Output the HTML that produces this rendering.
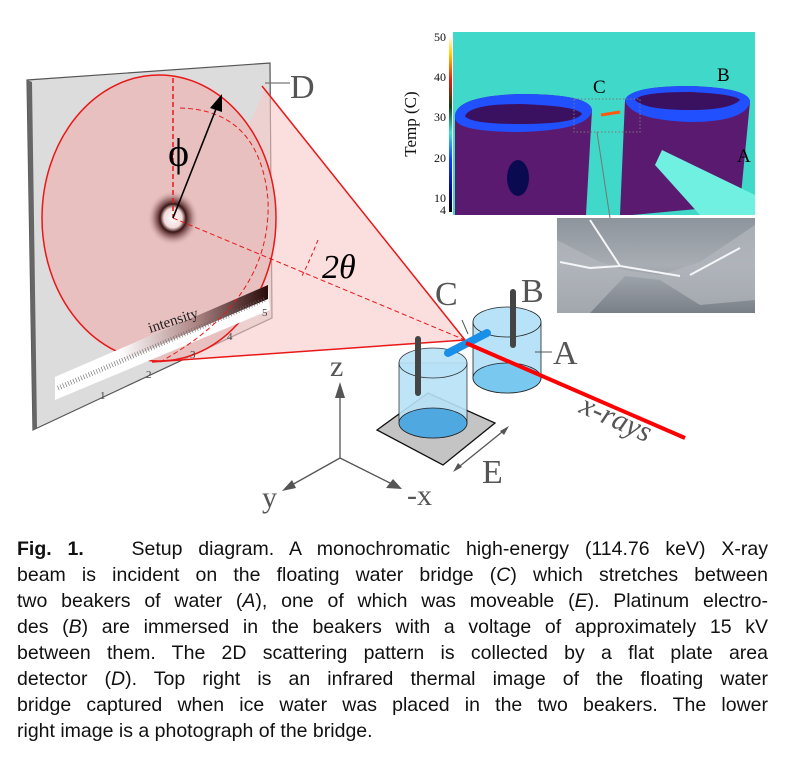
<!DOCTYPE html>
<html><head><meta charset="utf-8"><style>
body{margin:0;background:#fff;width:786px;height:775px;overflow:hidden;position:relative;font-family:"Liberation Sans",sans-serif}
svg{position:absolute;left:0;top:0}
.cap{position:absolute;left:17px;width:751px;top:536px;font-size:19.5px;line-height:26px;color:#111}
.cap div{text-align:justify;text-align-last:justify;white-space:nowrap;overflow:visible}
.cap div.l{text-align-last:left}
</style></head><body>
<svg width="786" height="530" viewBox="0 0 786 530" font-family="Liberation Serif, serif">
<defs>
<radialGradient id="ring" cx="0.5" cy="0.5" r="0.5">
<stop offset="0" stop-color="#fff"/><stop offset="0.35" stop-color="#f4dcdc"/><stop offset="0.5" stop-color="#3a1414"/><stop offset="0.7" stop-color="#8a5a5a" stop-opacity="0.7"/><stop offset="1" stop-color="#e8c5c5" stop-opacity="0"/>
</radialGradient>
<linearGradient id="ib" x1="0" y1="0" x2="1" y2="0"><stop offset="0" stop-color="#fff"/><stop offset="0.3" stop-color="#fff"/><stop offset="0.65" stop-color="#b08888"/><stop offset="1" stop-color="#2a0a0a"/></linearGradient>
<linearGradient id="cb" x1="0" y1="1" x2="0" y2="0"><stop offset="0" stop-color="#000"/><stop offset="0.1" stop-color="#00008a"/><stop offset="0.3" stop-color="#1040ff"/><stop offset="0.45" stop-color="#40e0d0"/><stop offset="0.6" stop-color="#104010"/><stop offset="0.75" stop-color="#e02010"/><stop offset="0.9" stop-color="#ffd000"/><stop offset="1" stop-color="#fff"/></linearGradient>
<linearGradient id="ph" x1="0" y1="0" x2="0" y2="1"><stop offset="0" stop-color="#8e949c"/><stop offset="0.5" stop-color="#a8adb4"/><stop offset="1" stop-color="#7a8088"/></linearGradient>
</defs>
<polygon points="27,80 270,63 272,318 33,430" fill="#dcdcdc" stroke="#555" stroke-width="1.2"/>
<polygon points="27,80 32,82 37,428 33,430" fill="#666"/>
<polygon points="265,88 465,340 150,362" fill="#f8c8c8" opacity="0.6"/>
<ellipse cx="159" cy="218" rx="117" ry="143" fill="#e8c0c0" stroke="#e81818" stroke-width="1.5"/>
<line x1="262" y1="86" x2="465" y2="340" stroke="#e81818" stroke-width="1.5"/>
<line x1="152" y1="362" x2="465" y2="340" stroke="#e81818" stroke-width="1.5"/>
<!-- intensity bar -->
<polygon points="55,377 268,285 270,310 55,400" fill="#fff"/>
<polygon points="55,377 268,285 268,299 55,390" fill="url(#ib)"/>
<line x1="58" y1="388" x2="266" y2="299" stroke="#666" stroke-width="5" stroke-dasharray="0.6 2.2"/>
<text x="150" y="333" font-size="15" fill="#222" transform="rotate(-18 150 333)">intensity</text>
<text x="100" y="399" font-size="11" fill="#444">1</text>
<text x="146" y="378" font-size="11" fill="#444">2</text>
<text x="190" y="358" font-size="11" fill="#444">3</text>
<text x="227" y="340" font-size="11" fill="#444">4</text>
<text x="262" y="316" font-size="11" fill="#444">5</text>
<ellipse cx="173" cy="218" rx="26" ry="28" fill="url(#ring)"/>
<line x1="173" y1="78" x2="173" y2="218" stroke="#e81818" stroke-width="1.5" stroke-dasharray="5 3"/>
<line x1="173" y1="218" x2="465" y2="340" stroke="#e81818" stroke-width="1" stroke-dasharray="5 3"/>
<path d="M180,108 Q260,110 268,200 Q272,300 160,362" fill="none" stroke="#e81818" stroke-width="1" stroke-dasharray="5 3"/>
<path d="M318,240 Q310,260 302,276" fill="none" stroke="#e81818" stroke-width="1" stroke-dasharray="4 3"/>
<line x1="173" y1="218" x2="218" y2="104" stroke="#000" stroke-width="1.6"/>
<polygon points="222,94 210,108 222,112" fill="#000"/>
<text x="168" y="166" font-size="40" fill="#000">ϕ</text>
<text x="322" y="278" font-size="34" font-style="italic" fill="#000">2θ</text>
<line x1="265" y1="83" x2="290" y2="83" stroke="#777" stroke-width="1.2"/>
<text x="290" y="98" font-size="34" fill="#555">D</text>
<!-- thermal -->
<rect x="453" y="32" width="302" height="183" fill="#40d8c8"/>
<path d="M455,118 Q453,96 520,94 Q590,94 592,110 L586,215 L455,215 Z" fill="#5a1a70"/>
<path d="M455,118 Q453,96 520,94 Q590,94 592,110 Q590,130 520,132 Q456,132 455,118 Z" fill="#2050ff"/>
<path d="M465,116 Q470,104 520,104 Q578,106 582,114 Q575,124 520,124 Q470,124 465,116 Z" fill="#3a1060"/>
<ellipse cx="518" cy="178" rx="11" ry="18" fill="#0a0a50"/>
<path d="M625,100 Q630,86 690,86 Q750,88 750,102 L740,205 L632,215 L620,215 Z" fill="#5a1a70"/>
<path d="M625,100 Q630,86 690,86 Q750,88 750,102 Q745,122 690,122 Q630,120 625,100 Z" fill="#2050ff"/>
<path d="M635,100 Q640,92 690,92 Q735,94 740,100 Q730,110 690,110 Q645,110 635,100 Z" fill="#3a1060"/>
<path d="M662,150 L755,195 L755,215 L700,215 L655,165 Z" fill="#70f0e0"/>
<line x1="601" y1="115" x2="620" y2="112" stroke="#ff5a10" stroke-width="3"/>
<rect x="574" y="99" width="66" height="33" fill="none" stroke="#777" stroke-dasharray="1.5 2"/>
<line x1="597" y1="132" x2="610" y2="218" stroke="#777"/>
<rect x="449" y="36" width="3" height="176" fill="url(#cb)"/>
<g font-size="12" fill="#111" text-anchor="end">
<text x="446" y="41">50</text><text x="446" y="81">40</text><text x="446" y="121">30</text><text x="446" y="162">20</text><text x="446" y="202">10</text><text x="446" y="214">4</text>
</g>
<text x="416" y="124" font-size="17" fill="#111" text-anchor="middle" transform="rotate(-90 416 124)">Temp (C)</text>
<text x="593" y="93" font-size="19" fill="#000">C</text>
<text x="717" y="81" font-size="19" fill="#000">B</text>
<text x="737" y="162" font-size="19" fill="#000">A</text>
<!-- photo -->
<rect x="557" y="218" width="198" height="95" fill="url(#ph)"/>
<path d="M557,240 L600,262 L625,270 L660,275 L700,262 L755,225 L755,300 L700,305 L660,280 L625,276 L590,313 L557,313 Z" fill="#b4b8be" opacity="0.7"/>
<path d="M590,220 L620,266 L632,268 L680,276 M690,275 L740,248 M560,262 L590,268 L620,266" stroke="#f4f6f8" stroke-width="2" fill="none"/>
<!-- beakers -->
<polygon points="377,430 428,393 495,423 443,465" fill="#c4c4c4" stroke="#111" stroke-width="1.3"/>
<path d="M473,322 L473,378 A34,15 0 0 0 541,378 L541,322 Z" fill="#b8e2f8" stroke="#222" stroke-width="0.8"/>
<ellipse cx="507" cy="378" rx="34" ry="15" fill="#78c8f0" stroke="#222" stroke-width="0.8"/>
<ellipse cx="507" cy="322" rx="34" ry="15" fill="#b8e2f8" stroke="#222" stroke-width="0.8"/>
<line x1="513" y1="292" x2="513" y2="345" stroke="#444" stroke-width="6" stroke-linecap="round"/>
<path d="M399,363 L399,423 A34,15 0 0 0 467,423 L467,363 Z" fill="#b8e2f8" stroke="#222" stroke-width="0.8" opacity="0.9"/>
<ellipse cx="433" cy="423" rx="34" ry="15" fill="#50a8e0" stroke="#222" stroke-width="0.8"/>
<ellipse cx="433" cy="363" rx="34" ry="15" fill="#b8e2f8" stroke="#222" stroke-width="0.8" opacity="0.9"/>
<line x1="418" y1="339" x2="418" y2="393" stroke="#444" stroke-width="6" stroke-linecap="round"/>
<line x1="448" y1="353" x2="487" y2="333" stroke="#1a8fe8" stroke-width="8" stroke-linecap="round"/>
<line x1="466" y1="343" x2="685" y2="438" stroke="#f00" stroke-width="4"/>
<line x1="462" y1="320" x2="468" y2="334" stroke="#555"/>
<line x1="535" y1="352" x2="552" y2="352" stroke="#555"/>
<g font-size="34" fill="#555">
<text x="435" y="305">C</text><text x="521" y="302">B</text><text x="553" y="364">A</text>
<text x="482" y="483">E</text>
</g>
<text x="578" y="412" font-size="30" font-style="italic" fill="#555" transform="rotate(24 578 412)">x-rays</text>
<g stroke="#555" stroke-width="1.3" fill="none">
<line x1="340" y1="458" x2="340" y2="392"/><line x1="340" y1="458" x2="392" y2="484"/><line x1="340" y1="458" x2="290" y2="486"/>
<line x1="455" y1="470" x2="507" y2="428"/>
</g>
<polygon points="340,382 335,398 345,398" fill="#555"/>
<polygon points="402,489 386,488 393,479" fill="#555"/>
<polygon points="282,491 292,480 296,488" fill="#555"/>
<polygon points="453,472 458,463 462,467" fill="#555"/>
<polygon points="509,426 500,431 504,435" fill="#555"/>
<g font-size="30" fill="#555">
<text x="330" y="376">z</text><text x="407" y="505">-x</text><text x="262" y="507">y</text>
</g>
</svg>
<div class="cap">
<div><b>Fig. 1.</b>&nbsp;&nbsp; Setup diagram. A monochromatic high-energy (114.76 keV) X-ray</div>
<div>beam is incident on the floating water bridge (<i>C</i>) which stretches between</div>
<div>two beakers of water (<i>A</i>), one of which was moveable (<i>E</i>). Platinum electro-</div>
<div>des (<i>B</i>) are immersed in the beakers with a voltage of approximately 15 kV</div>
<div>between them. The 2D scattering pattern is collected by a flat plate area</div>
<div>detector (<i>D</i>). Top right is an infrared thermal image of the floating water</div>
<div>bridge captured when ice water was placed in the two beakers. The lower</div>
<div class="l">right image is a photograph of the bridge.</div>
</div>
</body></html>
